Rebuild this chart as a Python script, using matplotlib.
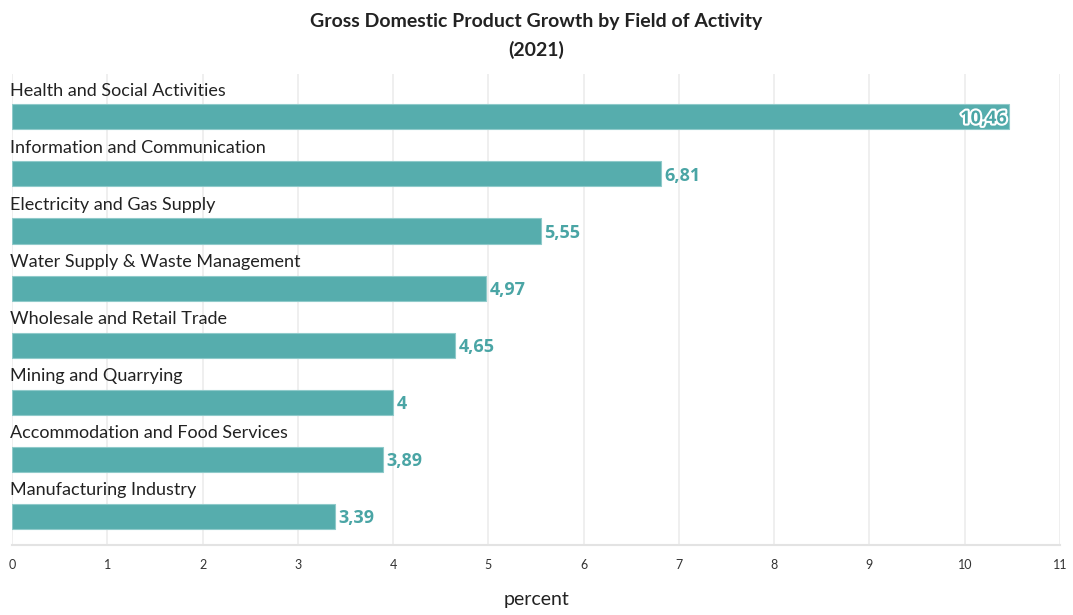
import matplotlib
matplotlib.use("Agg")
import matplotlib.pyplot as plt
import matplotlib.patheffects as pe

categories = [
    "Health and Social Activities",
    "Information and Communication",
    "Electricity and Gas Supply",
    "Water Supply & Waste Management",
    "Wholesale and Retail Trade",
    "Mining and Quarrying",
    "Accommodation and Food Services",
    "Manufacturing Industry",
]
values = [10.46, 6.81, 5.55, 4.97, 4.65, 4.0, 3.89, 3.39]
value_labels = ["10,46", "6,81", "5,55", "4,97", "4,65", "4", "3,89", "3,39"]

bar_color = "#56adad"
text_color = "#4aa5a5"

plt.rcParams["font.family"] = ["Lato", "DejaVu Sans"]

fig = plt.figure(figsize=(10.73, 6.15), dpi=100)
ax = fig.add_axes([12 / 1073, 1 - 545 / 615, (1060 - 12) / 1073, (545 - 74) / 615])

pos = list(range(len(categories)))
ax.barh(pos, values, height=0.44, color=bar_color, edgecolor="#8fcaca", linewidth=0.8, zorder=2)

for i, (v, lab, cat) in enumerate(zip(values, value_labels, categories)):
    ax.text(-0.02, i - 0.46, cat, ha="left", va="center", fontsize=13, color="#222222")
    if i == 0:
        ax.text(v - 0.02, i + 0.03, lab, ha="right", va="center", fontsize=13,
                fontweight="bold", color=text_color, family=["Open Sans", "DejaVu Sans"],
                path_effects=[pe.withStroke(linewidth=3, foreground="white")], zorder=3)
    else:
        ax.text(v + 0.04, i + 0.03, lab, ha="left", va="center", fontsize=13,
                fontweight="bold", color=text_color, family=["Open Sans", "DejaVu Sans"],
                zorder=3)

ax.set_xlim(0, 11)
ax.set_ylim(7.5, -0.75)
ax.set_xticks(range(12))
ax.set_yticks([])
ax.grid(axis="x", color="#ececec", linewidth=1.2, zorder=0)
for s in ["top", "right", "left"]:
    ax.spines[s].set_visible(False)
ax.spines["bottom"].set_color("#e3e3e3")
ax.spines["bottom"].set_linewidth(1.5)
ax.tick_params(axis="x", length=0, pad=10, labelsize=9, labelcolor="#333333")

fig.text(0.5, 1 - 600 / 615, "percent", ha="center", va="center", fontsize=14, color="#222222")

fig.text(0.5, 1 - 21 / 615, "Gross Domestic Product Growth by Field of Activity",
         ha="center", va="center", fontsize=14, fontweight="bold", color="#222222")
fig.text(0.5, 1 - 50 / 615, "(2021)", ha="center", va="center", fontsize=14,
         fontweight="bold", color="#222222")

fig.savefig("out.png", dpi=100)
